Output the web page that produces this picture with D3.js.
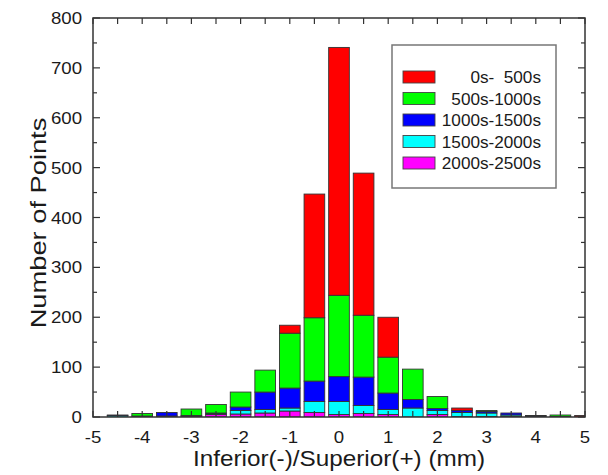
<!DOCTYPE html>
<html>
<head>
<meta charset="utf-8">
<script src="https://cdn.jsdelivr.net/npm/d3@7"></script>
<style>
  body { margin: 0; background: #fff; }
  text { font-family: "Liberation Sans", Arial, sans-serif; fill: #1a1a1a; }
</style>
</head>
<body>
<div id="chart"></div>
<script>
// bin centres (mm), bin width 0.5
const binCenters = [-4.5, -4, -3.5, -3, -2.5, -2, -1.5, -1, -0.5, 0, 0.5, 1, 1.5, 2, 2.5, 3, 3.5, 4, 4.5, 5];

// counts per time window
const counts0to500     = [0, 0, 0, 0, 0, 0, 0, 16, 248, 497, 285, 80, 0, 0, 5, 0, 0, 0, 0, 3];
const counts500to1000  = [0, 5, 0, 13, 17, 30, 44, 110, 127, 163, 124, 72, 61, 24, 0, 2, 0, 1, 3, 0];
const counts1000to1500 = [1, 0, 7, 2, 2, 7, 35, 40, 41, 50, 57, 33, 17, 4, 4, 3, 4, 2, 0, 0];
const counts1500to2000 = [3, 0, 0, 0, 1, 7, 7, 6, 22, 26, 16, 10, 18, 8, 8, 7, 3, 0, 0, 0];
const counts2000to2500 = [0, 2, 2, 1, 5, 6, 8, 12, 9, 5, 7, 5, 0, 5, 1, 1, 1, 0, 1, 0];

const seriesLabels = ["0s-  500s", "500s-1000s", "1000s-1500s", "1500s-2000s", "2000s-2500s"];
const seriesColors = ["#ff0000", "#00ff00", "#0000ff", "#00ffff", "#ff00ff"];
const seriesCounts = [counts0to500, counts500to1000, counts1000to1500, counts1500to2000, counts2000to2500];

const xTickValues = [-5, -4, -3, -2, -1, 0, 1, 2, 3, 4, 5];
const yTickValues = [0, 100, 200, 300, 400, 500, 600, 700, 800];

const width = 608, height = 475;
const margin = { top: 18, right: 23, bottom: 58, left: 93 };

const svg = d3.select("#chart").append("svg")
    .attr("width", width)
    .attr("height", height);

const x = d3.scaleLinear().domain([-5, 5]).range([margin.left, width - margin.right]);
const y = d3.scaleLinear().domain([0, 800]).range([height - margin.bottom, margin.top]);

// build rows for d3.stack, magenta at the bottom, red on top
const keys = d3.range(seriesLabels.length).reverse();
const rows = binCenters.map((c, i) => {
    const row = { center: c };
    keys.forEach(k => { row[k] = seriesCounts[k][i]; });
    return row;
});
const stacked = d3.stack().keys(keys)(rows);

svg.append("clipPath").attr("id", "plot-clip")
    .append("rect")
    .attr("x", x(-5)).attr("y", y(800))
    .attr("width", x(5) - x(-5)).attr("height", y(0) - y(800));

const halfBar = 0.21;
svg.append("g")
    .attr("clip-path", "url(#plot-clip)")
    .selectAll("g")
    .data(stacked)
    .join("g")
    .attr("fill", d => seriesColors[d.key])
    .selectAll("rect")
    .data(d => d.filter(s => s[1] > s[0]))
    .join("rect")
    .attr("x", d => x(d.data.center - halfBar))
    .attr("width", d => x(d.data.center + halfBar) - x(d.data.center - halfBar))
    .attr("y", d => y(d[1]))
    .attr("height", d => y(d[0]) - y(d[1]))
    .attr("stroke", "#333")
    .attr("stroke-width", 0.9);

// inward ticks on all four sides
const xMinor = d3.range(-5, 5.01, 0.5);
const yMinor = d3.range(0, 801, 50);
const ticks = svg.append("g").attr("stroke", "#333").attr("stroke-width", 1.2);
xMinor.forEach(v => {
    ticks.append("line").attr("x1", x(v)).attr("x2", x(v)).attr("y1", y(0)).attr("y2", y(0) - 6);
    ticks.append("line").attr("x1", x(v)).attr("x2", x(v)).attr("y1", y(800)).attr("y2", y(800) + 6);
});
yMinor.forEach(v => {
    const len = v % 100 === 0 ? 7 : 4;
    ticks.append("line").attr("x1", x(-5)).attr("x2", x(-5) + len).attr("y1", y(v)).attr("y2", y(v));
    ticks.append("line").attr("x1", x(5)).attr("x2", x(5) - len).attr("y1", y(v)).attr("y2", y(v));
});

// frame
svg.append("rect")
    .attr("x", x(-5)).attr("y", y(800))
    .attr("width", x(5) - x(-5)).attr("height", y(0) - y(800))
    .attr("fill", "none").attr("stroke", "#333").attr("stroke-width", 1.5);

// text is a little wider than plain Arial in the original
function label(g, tx, ty, str, size, anchor, stretch, rotate) {
    g.append("text")
        .attr("transform", `translate(${tx},${ty})` + (rotate ? ` rotate(${rotate})` : "") + ` scale(${stretch},1)`)
        .attr("text-anchor", anchor)
        .attr("font-size", size)
        .style("white-space", "pre")
        .text(str);
}

const labels = svg.append("g");
xTickValues.forEach(v => label(labels, x(v), y(0) + 26, String(v), 16.5, "middle", 1.13));
yTickValues.forEach(v => label(labels, x(-5) - 11, y(v) + 6, String(v), 16.5, "end", 1.13));

label(labels, (x(-5) + x(5)) / 2, 466, "Inferior(-)/Superior(+) (mm)", 21.5, "middle", 1.13);
label(labels, 46, 223, "Number of Points", 22, "middle", 1.24, -90);

// legend
const legend = svg.append("g");
legend.append("rect")
    .attr("x", 392).attr("y", 45).attr("width", 164).attr("height", 143)
    .attr("fill", "#fff").attr("stroke", "#777").attr("stroke-width", 1.5);
seriesLabels.forEach((s, i) => {
    const cy = 77 + i * 21.5;
    legend.append("rect")
        .attr("x", 403).attr("y", cy - 6).attr("width", 32).attr("height", 12)
        .attr("fill", seriesColors[i]).attr("stroke", "#444").attr("stroke-width", 0.9);
    label(legend, 541, cy + 6, s, 16.5, "end", 1.04);
});
</script>
</body>
</html>
